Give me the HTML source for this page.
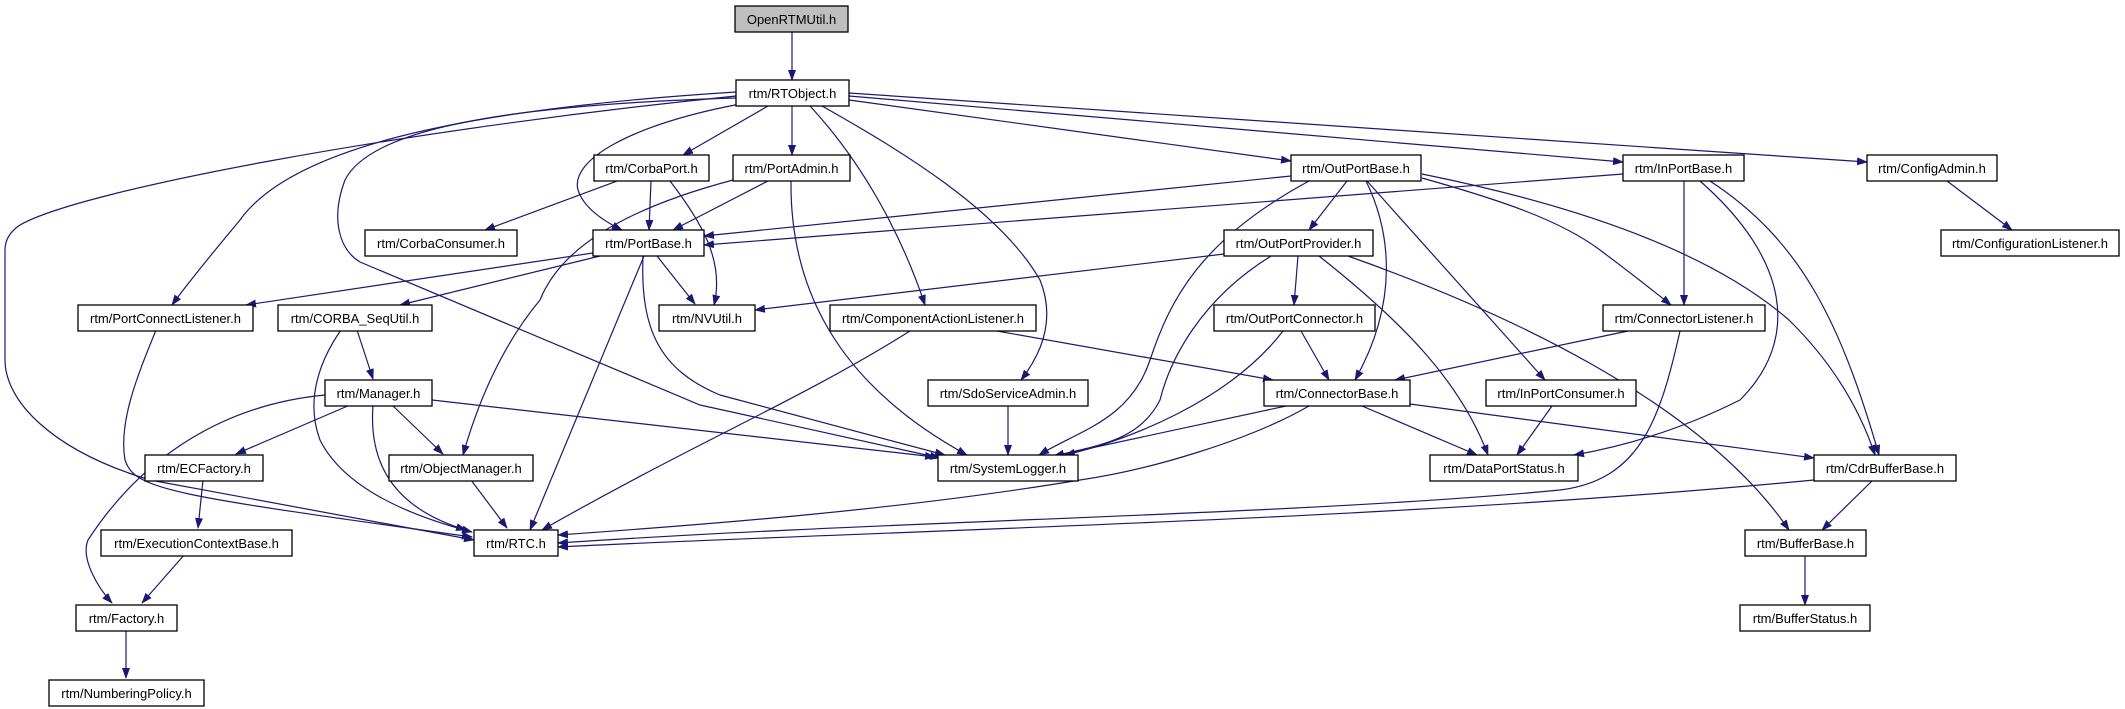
<!DOCTYPE html>
<html><head><meta charset="utf-8"><style>
html,body{margin:0;padding:0;background:#fff;}
svg{display:block;}
text{font-family:"Liberation Sans",Arial,sans-serif;font-size:13px;fill:#000;}
.e{fill:none;stroke:#191970;stroke-width:1.2;marker-end:url(#a);}
.n{fill:#fff;stroke:#000;stroke-width:1.3;}
</style></head><body>
<svg width="2125" height="709" viewBox="0 0 2125 709" xmlns="http://www.w3.org/2000/svg">
<defs><marker id="a" markerUnits="userSpaceOnUse" markerWidth="11" markerHeight="8" refX="10" refY="4" orient="auto"><path d="M0,0 L11,4 L0,8 z" fill="#191970"/></marker></defs>
<g>
<path class="e" d="M792,32 L792,80"/>
<path class="e" d="M736,92 C450,110 290,150 240,220 Q190,280 172,305"/>
<path class="e" d="M736,96 C400,130 80,190 20,225 Q5,235 5,250 L5,360 C5,400 50,450 150,480 L474,540"/>
<path class="e" d="M736,98 C500,105 370,130 345,180 C330,220 340,250 360,262 L700,405 L940,458"/>
<path class="e" d="M740,104 C630,125 570,160 578,190 Q585,212 622,230"/>
<path class="e" d="M768,106 L683,155"/>
<path class="e" d="M792,106 L792,155"/>
<path class="e" d="M810,106 C860,160 900,230 925,305"/>
<path class="e" d="M822,106 C900,150 1000,210 1040,280 Q1060,330 1021,380"/>
<path class="e" d="M849,100 L1291,161"/>
<path class="e" d="M849,96 L1623,162"/>
<path class="e" d="M849,93 L1867,162"/>
<path class="e" d="M617,181 L485,230"/>
<path class="e" d="M651,181 L649,230"/>
<path class="e" d="M670,181 C700,220 725,260 714,305"/>
<path class="e" d="M768,181 L673,230"/>
<path class="e" d="M733,180 C620,210 560,250 540,300 Q490,360 463,455"/>
<path class="e" d="M791,181 C790,280 830,380 967,455"/>
<path class="e" d="M593,253 L246,305"/>
<path class="e" d="M600,256 L400,305"/>
<path class="e" d="M657,256 L695,304"/>
<path class="e" d="M643,256 C640,330 660,370 720,395 L945,455"/>
<path class="e" d="M644,256 L530,530"/>
<path class="e" d="M1291,176 L704,236"/>
<path class="e" d="M1623,174 L704,245"/>
<path class="e" d="M1309,181 C1200,240 1170,300 1150,360 C1130,420 1080,430 1039,455"/>
<path class="e" d="M1347,181 L1309,230"/>
<path class="e" d="M1366,181 C1390,230 1400,300 1355,380"/>
<path class="e" d="M1367,181 L1545,380"/>
<path class="e" d="M1422,178 C1500,200 1560,220 1600,250 Q1640,280 1671,305"/>
<path class="e" d="M1422,174 C1600,210 1720,260 1789,320 Q1850,380 1875,455"/>
<path class="e" d="M1684,181 L1684,305"/>
<path class="e" d="M1700,181 C1790,260 1800,340 1740,400 Q1660,440 1574,455"/>
<path class="e" d="M1710,181 C1800,240 1840,320 1879,455"/>
<path class="e" d="M1947,181 L2012,230"/>
<path class="e" d="M1224,254 L755,310"/>
<path class="e" d="M1271,256 C1200,300 1170,360 1160,400 C1140,440 1100,445 1054,456"/>
<path class="e" d="M1298,256 L1294,305"/>
<path class="e" d="M1319,256 C1400,320 1460,380 1488,455"/>
<path class="e" d="M1348,256 C1500,310 1700,400 1789,530"/>
<path class="e" d="M1301,331 L1329,380"/>
<path class="e" d="M1283,331 C1230,400 1130,440 1065,455"/>
<path class="e" d="M1628,331 L1395,380"/>
<path class="e" d="M1680,331 C1660,420 1640,480 1560,490 C1300,515 900,520 558,543"/>
<path class="e" d="M997,331 L1273,380"/>
<path class="e" d="M910,331 C800,400 700,440 542,530"/>
<path class="e" d="M156,330 C140,370 118,420 125,460 C135,490 170,495 472,537"/>
<path class="e" d="M357,330 L373,379"/>
<path class="e" d="M341,330 C320,360 305,400 320,440 Q350,500 472,532"/>
<path class="e" d="M350,405 L236,454"/>
<path class="e" d="M392,405 L443,454"/>
<path class="e" d="M373,405 C368,470 400,510 466,530"/>
<path class="e" d="M432,400 L935,457"/>
<path class="e" d="M325,395 C220,405 140,460 88,540 C80,560 100,590 112,603"/>
<path class="e" d="M1008,406 L1008,455"/>
<path class="e" d="M1286,406 L1054,456"/>
<path class="e" d="M1309,406 C1250,440 1150,470 1080,480 C900,510 700,525 558,535"/>
<path class="e" d="M1362,406 L1477,455"/>
<path class="e" d="M1410,404 L1814,458"/>
<path class="e" d="M1552,406 L1517,455"/>
<path class="e" d="M1814,480 C1400,520 900,530 558,547"/>
<path class="e" d="M1872,481 L1822,530"/>
<path class="e" d="M1805,556 L1805,605"/>
<path class="e" d="M203,480 L198,528"/>
<path class="e" d="M185,554 L142,603"/>
<path class="e" d="M126,629 L126,678"/>
<path class="e" d="M471,480 L507,528"/>
</g>
<g>
<rect x="735" y="6" width="113" height="26" fill="#bfbfbf" stroke="#000" stroke-width="1.3"/><text x="791.5" y="24" text-anchor="middle">OpenRTMUtil.h</text>
<rect class="n" x="736" y="80" width="113" height="26"/><text x="792.5" y="98" text-anchor="middle">rtm/RTObject.h</text>
<rect class="n" x="594" y="155" width="115" height="26"/><text x="651.5" y="173" text-anchor="middle">rtm/CorbaPort.h</text>
<rect class="n" x="733" y="155" width="117" height="26"/><text x="791.5" y="173" text-anchor="middle">rtm/PortAdmin.h</text>
<rect class="n" x="1291" y="155" width="130" height="26"/><text x="1356" y="173" text-anchor="middle">rtm/OutPortBase.h</text>
<rect class="n" x="1623" y="155" width="121" height="26"/><text x="1683.5" y="173" text-anchor="middle">rtm/InPortBase.h</text>
<rect class="n" x="1867" y="155" width="130" height="26"/><text x="1932" y="173" text-anchor="middle">rtm/ConfigAdmin.h</text>
<rect class="n" x="365" y="230" width="152" height="26"/><text x="441" y="248" text-anchor="middle">rtm/CorbaConsumer.h</text>
<rect class="n" x="593" y="230" width="111" height="26"/><text x="648.5" y="248" text-anchor="middle">rtm/PortBase.h</text>
<rect class="n" x="1224" y="230" width="149" height="26"/><text x="1298.5" y="248" text-anchor="middle">rtm/OutPortProvider.h</text>
<rect class="n" x="1941" y="230" width="178" height="26"/><text x="2030" y="248" text-anchor="middle">rtm/ConfigurationListener.h</text>
<rect class="n" x="78" y="305" width="175" height="26"/><text x="165.5" y="323" text-anchor="middle">rtm/PortConnectListener.h</text>
<rect class="n" x="278" y="305" width="154" height="26"/><text x="355" y="323" text-anchor="middle">rtm/CORBA_SeqUtil.h</text>
<rect class="n" x="659" y="305" width="96" height="26"/><text x="707" y="323" text-anchor="middle">rtm/NVUtil.h</text>
<rect class="n" x="830" y="305" width="206" height="26"/><text x="933" y="323" text-anchor="middle">rtm/ComponentActionListener.h</text>
<rect class="n" x="1214" y="305" width="161" height="26"/><text x="1294.5" y="323" text-anchor="middle">rtm/OutPortConnector.h</text>
<rect class="n" x="1603" y="305" width="162" height="26"/><text x="1684" y="323" text-anchor="middle">rtm/ConnectorListener.h</text>
<rect class="n" x="325" y="380" width="107" height="26"/><text x="378.5" y="398" text-anchor="middle">rtm/Manager.h</text>
<rect class="n" x="928" y="380" width="160" height="26"/><text x="1008" y="398" text-anchor="middle">rtm/SdoServiceAdmin.h</text>
<rect class="n" x="1264" y="380" width="146" height="26"/><text x="1337" y="398" text-anchor="middle">rtm/ConnectorBase.h</text>
<rect class="n" x="1486" y="380" width="150" height="26"/><text x="1561" y="398" text-anchor="middle">rtm/InPortConsumer.h</text>
<rect class="n" x="145" y="455" width="118" height="26"/><text x="204" y="473" text-anchor="middle">rtm/ECFactory.h</text>
<rect class="n" x="389" y="455" width="144" height="26"/><text x="461" y="473" text-anchor="middle">rtm/ObjectManager.h</text>
<rect class="n" x="938" y="455" width="140" height="26"/><text x="1008" y="473" text-anchor="middle">rtm/SystemLogger.h</text>
<rect class="n" x="1430" y="455" width="148" height="26"/><text x="1504" y="473" text-anchor="middle">rtm/DataPortStatus.h</text>
<rect class="n" x="1814" y="455" width="142" height="26"/><text x="1885" y="473" text-anchor="middle">rtm/CdrBufferBase.h</text>
<rect class="n" x="101" y="530" width="191" height="26"/><text x="196.5" y="548" text-anchor="middle">rtm/ExecutionContextBase.h</text>
<rect class="n" x="474" y="530" width="84" height="26"/><text x="516" y="548" text-anchor="middle">rtm/RTC.h</text>
<rect class="n" x="1745" y="530" width="121" height="26"/><text x="1805.5" y="548" text-anchor="middle">rtm/BufferBase.h</text>
<rect class="n" x="76" y="605" width="101" height="26"/><text x="126.5" y="623" text-anchor="middle">rtm/Factory.h</text>
<rect class="n" x="1740" y="605" width="130" height="26"/><text x="1805" y="623" text-anchor="middle">rtm/BufferStatus.h</text>
<rect class="n" x="49" y="680" width="155" height="26"/><text x="126.5" y="698" text-anchor="middle">rtm/NumberingPolicy.h</text>
</g>
</svg>
</body></html>
